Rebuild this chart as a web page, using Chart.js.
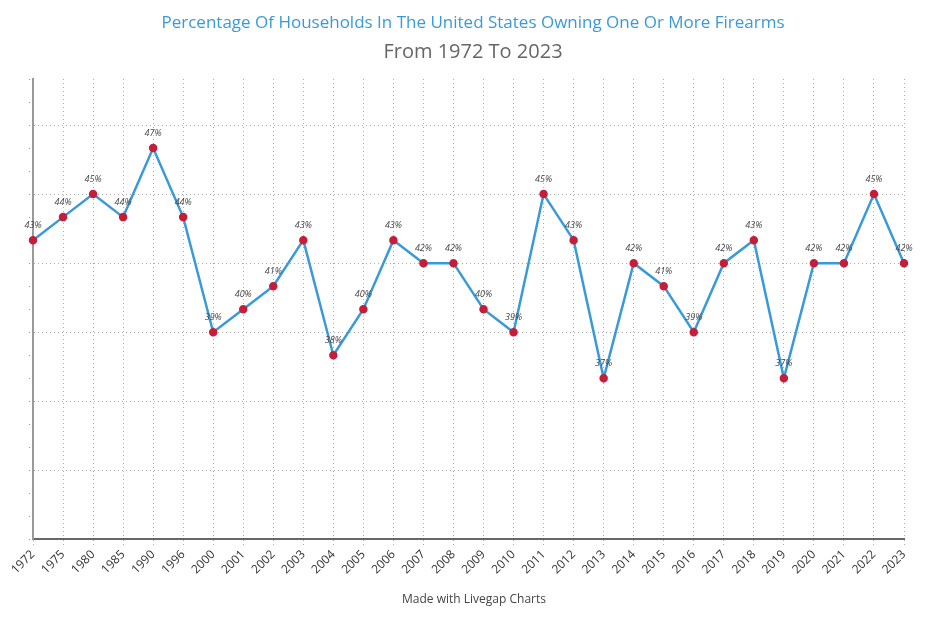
<!DOCTYPE html>
<html>
<head>
<meta charset="utf-8">
<script src="https://cdn.jsdelivr.net/npm/chart.js@4"></script>
<style>
  body { margin: 0; background: #fff; }
  #wrap { width: 950px; height: 620px; position: relative; }
</style>
</head>
<body>
<div id="wrap"><canvas id="chart"></canvas></div>
<script>
// data
const years = ["1972", "1975", "1980", "1985", "1990", "1996", "2000", "2001", "2002", "2003",
  "2004", "2005", "2006", "2007", "2008", "2009", "2010", "2011", "2012", "2013",
  "2014", "2015", "2016", "2017", "2018", "2019", "2020", "2021", "2022", "2023"];
const ownership = [43, 44, 45, 44, 47, 44, 39, 40, 41, 43,
  38, 40, 43, 42, 42, 40, 39, 45, 43, 37,
  42, 41, 39, 42, 43, 37, 42, 42, 45, 42];

const titleText = "Percentage Of Households In The United States Owning One Or More Firearms";
const subtitleText = "From 1972 To 2023";
const footerText = "Made with Livegap Charts";

// labels above each point
const pointLabels = {
  id: "pointLabels",
  afterDatasetsDraw(chart) {
    const ctx = chart.ctx;
    const meta = chart.getDatasetMeta(0);
    ctx.save();
    ctx.font = "italic 9px 'Open Sans'";
    ctx.fillStyle = "#444";
    ctx.textAlign = "center";
    ctx.textBaseline = "bottom";
    meta.data.forEach((pt, i) => {
      ctx.fillText(ownership[i] + "%", pt.x, pt.y - 10);
    });
    ctx.restore();
  }
};

// title, subtitle and footer, centred on the page
const texts = {
  id: "texts",
  afterDraw(chart) {
    const ctx = chart.ctx;
    ctx.save();
    ctx.textAlign = "center";
    ctx.textBaseline = "middle";
    ctx.font = "17px 'Open Sans'";
    ctx.fillStyle = "#3a9ad9";
    ctx.fillText(titleText, 473, 23);
    ctx.font = "20px 'Open Sans'";
    ctx.fillStyle = "#666";
    ctx.fillText(subtitleText, 473, 52);
    ctx.font = "12px 'Open Sans'";
    ctx.fillStyle = "#444";
    ctx.fillText(footerText, 474, 600);
    ctx.restore();
  }
};

const ctx = document.getElementById("chart").getContext("2d");
new Chart(ctx, {
  type: "line",
  data: {
    labels: years,
    datasets: [{
      data: ownership,
      borderColor: "#3a9ad9",
      borderWidth: 2.5,
      pointBackgroundColor: "#c41e3a",
      pointBorderColor: "#c41e3a",
      pointRadius: 3,
      tension: 0,
      fill: false
    }]
  },
  options: {
    responsive: true,
    maintainAspectRatio: false,
    animation: false,
    layout: { padding: { left: 29, right: 46, top: 79, bottom: 41 } },
    plugins: {
      legend: { display: false },
      tooltip: { enabled: false },
      title: { display: false }
    },
    scales: {
      x: {
        offset: false,
        grid: {
          color: "#aaa",
          lineWidth: 1,
          tickLength: 6,
          tickColor: "#aaa",
          tickBorderDash: [1, 3]
        },
        border: { color: "#666", width: 2, dash: [1, 3] },
        ticks: {
          color: "#333",
          font: { family: "'Open Sans'", size: 12 },
          minRotation: 45,
          maxRotation: 45,
          padding: 2
        }
      },
      y: {
        min: 30,
        max: 50,
        grid: {
          color: c => (c.tick && c.tick.value % 3 === 0) ? "#aaa" : "rgba(0,0,0,0)",
          lineWidth: 1,
          tickLength: 4,
          tickColor: "#999",
          tickBorderDash: [1, 3]
        },
        border: { color: "#999", width: 2, dash: [1, 3] },
        ticks: { stepSize: 1, display: false }
      }
    }
  },
  plugins: [pointLabels, texts]
});
</script>
</body>
</html>
